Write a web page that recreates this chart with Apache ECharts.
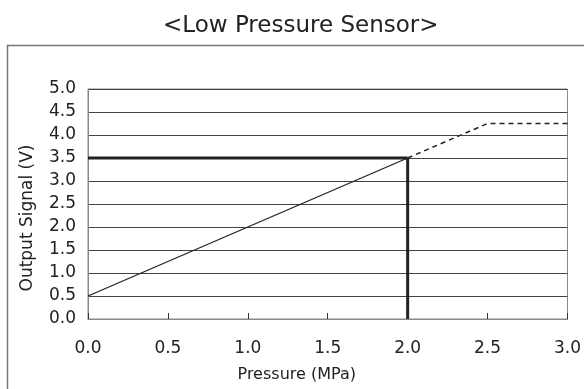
<!DOCTYPE html>
<html>
<head>
<meta charset="utf-8">
<script src="https://cdn.jsdelivr.net/npm/echarts@6/dist/echarts.min.js"></script>
<style>
  html, body { margin: 0; padding: 0; background: #fff; }
  #main { width: 584px; height: 389px; }
</style>
</head>
<body>
<div id="main"></div>
<script>
// sensor characteristic (Pressure MPa, Output V)
var sensorSolid = [[0.0, 0.5], [2.0, 3.5]];
var sensorDashed = [[2.0, 3.5], [2.5, 4.25], [3.0, 4.25]];
// reading guide at 2.0 MPa -> 3.5 V
var guideH = [[0.0, 3.5], [2.0, 3.5]];
var guideV = [[2.0, 0.0], [2.0, 3.5]];

var xMin = 0, xMax = 3.0, xStep = 0.5;
var yMin = 0, yMax = 5.0, yStep = 0.5;

var font = 'DejaVu Sans';
var ink = '#222';

var myChart = echarts.init(document.getElementById('main'));
myChart.setOption({
  backgroundColor: '#fff',
  animation: false,
  title: {
    text: '<Low Pressure Sensor>',
    left: 158,
    top: 10,
    textStyle: { fontFamily: font, fontSize: 23, fontWeight: 'normal', color: ink }
  },
  graphic: [{
    type: 'rect',
    shape: { x: 7.5, y: 45.5, width: 700, height: 500 },
    style: { fill: 'none', stroke: '#777', lineWidth: 1.5 },
    silent: true,
    z: -1
  }],
  grid: {
    left: 88, right: 15, top: 89, bottom: 70,
    show: true, borderColor: '#888', borderWidth: 1
  },
  xAxis: {
    type: 'value',
    min: xMin, max: xMax, interval: xStep,
    name: 'Pressure (MPa)',
    nameLocation: 'middle',
    nameGap: 48,
    nameTextStyle: { fontFamily: font, fontSize: 16, color: ink, padding: [0, 62, 0, 0] },
    axisLine: { lineStyle: { color: '#888', width: 1 } },
    axisTick: { show: true, inside: true, length: 6, lineStyle: { color: '#333' } },
    axisLabel: {
      fontFamily: font, fontSize: 17, color: ink, margin: 21,
      formatter: function (v) { return v.toFixed(1); }
    },
    splitLine: { show: false }
  },
  yAxis: {
    type: 'value',
    min: yMin, max: yMax, interval: yStep,
    name: 'Output Signal (V)',
    nameLocation: 'middle',
    nameRotate: 90,
    nameGap: 52,
    nameTextStyle: { fontFamily: font, fontSize: 17, color: ink, padding: [0, 28, 0, 0] },
    axisLine: { show: true, lineStyle: { color: '#888', width: 1 } },
    axisTick: { show: false },
    axisLabel: {
      fontFamily: font, fontSize: 17, color: ink, margin: 12,
      formatter: function (v) { return v.toFixed(1); }
    },
    splitLine: { show: true, lineStyle: { color: '#444', width: 1 } }
  },
  series: [
    {
      type: 'line', data: guideH, symbol: 'none', z: 3,
      lineStyle: { color: ink, width: 3 }
    },
    {
      type: 'line', data: guideV, symbol: 'none', z: 3,
      lineStyle: { color: ink, width: 3 }
    },
    {
      type: 'line', data: sensorSolid, symbol: 'none', z: 4,
      lineStyle: { color: ink, width: 1.3 }
    },
    {
      type: 'line', data: sensorDashed, symbol: 'none', z: 4,
      lineStyle: { color: ink, width: 1.5, type: [5, 4] }
    }
  ]
});
</script>
</body>
</html>
